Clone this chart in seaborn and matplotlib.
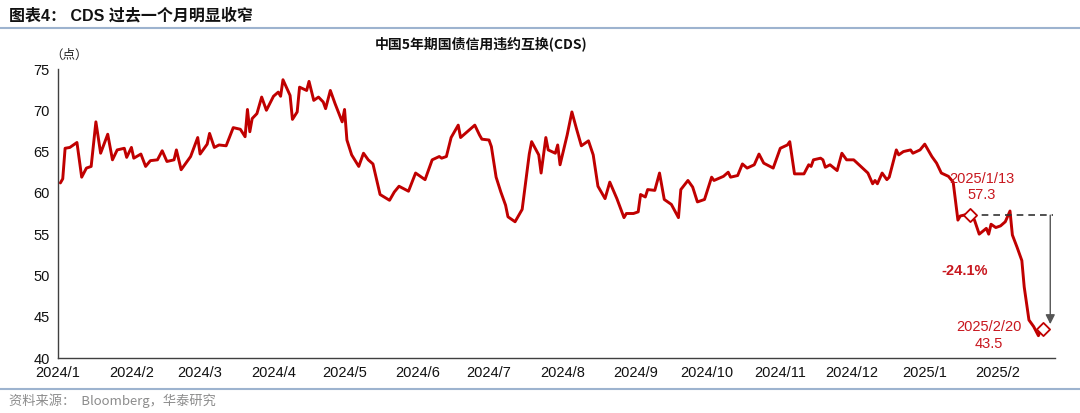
import pandas as pd
import seaborn as sns
import matplotlib.pyplot as plt
import matplotlib.dates as mdates
from matplotlib.ticker import FuncFormatter

# data
dates = [
    "2024-01-02", "2024-01-03", "2024-01-04", "2024-01-06", "2024-01-09", "2024-01-11", "2024-01-13", "2024-01-15",
    "2024-01-17", "2024-01-19", "2024-01-22", "2024-01-24", "2024-01-26", "2024-01-29", "2024-01-30", "2024-02-01",
    "2024-02-02", "2024-02-05", "2024-02-07", "2024-02-09", "2024-02-12", "2024-02-14", "2024-02-16", "2024-02-19",
    "2024-02-20", "2024-02-22", "2024-02-26", "2024-02-29", "2024-03-01", "2024-03-04", "2024-03-05", "2024-03-07",
    "2024-03-09", "2024-03-12", "2024-03-15", "2024-03-18", "2024-03-20", "2024-03-21", "2024-03-22", "2024-03-23",
    "2024-03-25", "2024-03-27", "2024-03-29", "2024-04-01", "2024-04-03", "2024-04-04", "2024-04-05", "2024-04-08",
    "2024-04-09", "2024-04-11", "2024-04-12", "2024-04-15", "2024-04-16", "2024-04-18", "2024-04-20", "2024-04-22",
    "2024-04-23", "2024-04-25", "2024-04-27", "2024-04-30", "2024-05-01", "2024-05-02", "2024-05-04", "2024-05-07",
    "2024-05-09", "2024-05-11", "2024-05-13", "2024-05-16", "2024-05-20", "2024-05-22", "2024-05-24", "2024-05-28",
    "2024-05-31", "2024-06-04", "2024-06-07", "2024-06-10", "2024-06-11", "2024-06-13", "2024-06-15", "2024-06-18",
    "2024-06-19", "2024-06-25", "2024-06-27", "2024-06-28", "2024-07-01", "2024-07-02", "2024-07-04", "2024-07-06",
    "2024-07-08", "2024-07-09", "2024-07-12", "2024-07-15", "2024-07-18", "2024-07-19", "2024-07-22", "2024-07-23",
    "2024-07-25", "2024-07-26", "2024-07-29", "2024-07-30", "2024-07-31", "2024-08-03", "2024-08-05", "2024-08-07",
    "2024-08-09", "2024-08-12", "2024-08-14", "2024-08-16", "2024-08-19", "2024-08-21", "2024-08-24", "2024-08-27",
    "2024-08-28", "2024-08-31", "2024-09-02", "2024-09-03", "2024-09-05", "2024-09-06", "2024-09-09", "2024-09-11",
    "2024-09-13", "2024-09-16", "2024-09-19", "2024-09-20", "2024-09-23", "2024-09-25", "2024-09-27", "2024-09-30",
    "2024-10-03", "2024-10-04", "2024-10-08", "2024-10-10", "2024-10-11", "2024-10-14", "2024-10-16", "2024-10-18",
    "2024-10-21", "2024-10-23", "2024-10-25", "2024-10-29", "2024-11-01", "2024-11-04", "2024-11-05", "2024-11-07",
    "2024-11-11", "2024-11-13", "2024-11-14", "2024-11-15", "2024-11-18", "2024-11-19", "2024-11-20", "2024-11-22",
    "2024-11-25", "2024-11-27", "2024-11-29", "2024-12-02", "2024-12-05", "2024-12-08", "2024-12-10", "2024-12-11",
    "2024-12-12", "2024-12-14", "2024-12-16", "2024-12-17", "2024-12-20", "2024-12-21", "2024-12-23", "2024-12-26",
    "2024-12-27", "2024-12-30", "2025-01-01", "2025-01-04", "2025-01-06", "2025-01-08", "2025-01-11", "2025-01-13",
    "2025-01-15", "2025-01-16", "2025-01-19", "2025-01-20", "2025-01-22", "2025-01-24", "2025-01-27", "2025-01-28",
    "2025-01-29", "2025-01-31", "2025-02-02", "2025-02-04", "2025-02-06", "2025-02-07", "2025-02-09", "2025-02-11",
    "2025-02-12", "2025-02-14", "2025-02-16", "2025-02-18", "2025-02-19", "2025-02-20",
]
cds = [
    61.2, 61.7, 65.4, 65.5, 66.1, 61.9, 63.0, 63.2,
    68.6, 64.8, 67.1, 64.0, 65.2, 65.4, 64.3, 65.5,
    64.2, 64.7, 63.2, 63.9, 64.0, 65.1, 63.8, 64.0,
    65.2, 62.8, 64.4, 66.7, 64.7, 65.9, 67.2, 65.5,
    65.8, 65.7, 67.9, 67.7, 66.8, 70.1, 67.4, 69.0,
    69.6, 71.6, 70.0, 71.7, 72.2, 71.7, 73.7, 71.8,
    68.9, 69.8, 72.8, 72.4, 73.5, 71.2, 71.6, 71.0,
    70.2, 72.4, 70.8, 68.6, 70.1, 66.4, 64.6, 63.2,
    64.8, 64.0, 63.5, 59.8, 59.1, 60.1, 60.8, 60.2,
    62.4, 61.6, 64.0, 64.4, 64.2, 64.4, 66.7, 68.2,
    66.7, 68.2, 67.0, 66.5, 66.4, 65.6, 61.9, 60.1,
    58.5, 57.1, 56.5, 58.0, 64.7, 66.2, 64.6, 62.4,
    66.7, 65.2, 64.8, 65.8, 63.4, 67.0, 69.8, 67.7,
    65.7, 66.3, 64.6, 60.8, 59.3, 61.3, 59.3, 57.0,
    57.5, 57.5, 57.7, 59.8, 59.5, 60.4, 60.3, 62.4,
    59.2, 58.6, 57.0, 60.4, 61.5, 60.7, 58.9, 59.2,
    61.9, 61.5, 62.0, 62.5, 61.9, 62.1, 63.5, 63.0,
    63.4, 64.7, 63.6, 63.0, 65.4, 65.8, 66.2, 62.3,
    62.3, 63.4, 63.2, 64.0, 64.2, 64.0, 63.1, 63.4,
    62.7, 64.8, 64.0, 64.0, 63.2, 62.4, 61.1, 61.5,
    61.1, 62.4, 61.6, 61.9, 65.2, 64.6, 65.0, 65.2,
    64.8, 65.2, 65.9, 64.4, 63.6, 62.4, 62.0, 61.3,
    56.7, 57.2, 57.4, 57.5, 56.7, 55.0, 55.7, 55.0,
    56.2, 55.8, 56.0, 56.5, 57.8, 54.9, 53.4, 51.8,
    48.6, 44.6, 43.8, 42.7, 43.4, 43.5,
]

# annotated points
ann_dates = ["2025-01-20", "2025-02-20"]
ann_values = [57.3, 43.5]
ann_labels = ["2025/1/13\n57.3", "2025/2/20\n43.5"]
change_label = "-24.1%"
line_end = "2025-02-24"

red = "#C00000"
text_red = "#C8171E"
rule_color = "#9DB3CF"

df = pd.DataFrame({"date": pd.to_datetime(dates), "cds": cds})
ann = pd.DataFrame({"date": pd.to_datetime(ann_dates), "cds": ann_values})

sns.set_theme(style="white")
plt.rcParams["font.family"] = ["Liberation Sans", "Noto Sans CJK SC", "DejaVu Sans"]

fig = plt.figure(figsize=(10.8, 4.13), dpi=100)
ax = fig.add_axes([58 / 1080, 55 / 413, 997 / 1080, 289 / 413])

sns.lineplot(data=df, x="date", y="cds", color=red, linewidth=2.1, ax=ax)

# dashed level line and arrow between the two marked points
ax.plot([ann["date"].iloc[0], pd.Timestamp(line_end)], [ann_values[0], ann_values[0]],
        color="#333333", linestyle=(0, (4, 3)), linewidth=1.2, zorder=2)
arrow_x = pd.Timestamp(line_end) - pd.Timedelta(days=1)
ax.annotate("", xy=(arrow_x, ann_values[1] + 0.6), xytext=(arrow_x, ann_values[0]),
            arrowprops=dict(arrowstyle="-|>", color="#555555", lw=1.0, mutation_scale=14,
                            shrinkA=0, shrinkB=0, facecolor="black"))

sns.scatterplot(data=ann, x="date", y="cds", marker="D", s=45, color="white",
                edgecolor=red, linewidth=1.3, zorder=5, ax=ax)

ax.text(ann["date"].iloc[0] + pd.Timedelta(days=5), ann_values[0] + 1.6, ann_labels[0],
        ha="center", va="bottom", color=text_red, fontsize=10.5, linespacing=1.2)
ax.text(ann["date"].iloc[1] - pd.Timedelta(days=23), 40.9, ann_labels[1],
        ha="center", va="bottom", color=text_red, fontsize=10.5, linespacing=1.2)
ax.text(pd.Timestamp("2025-01-18"), 50.5, change_label, ha="center", va="center",
        color=text_red, fontsize=10.5, fontweight="bold")

ax.set_xlim(pd.Timestamp("2024-01-01"), pd.Timestamp("2025-02-25"))
ax.set_ylim(40, 75)
ax.set_yticks(range(40, 76, 5))
ax.xaxis.set_major_locator(mdates.MonthLocator())
ax.xaxis.set_major_formatter(FuncFormatter(lambda v, p: f"{mdates.num2date(v).year}/{mdates.num2date(v).month}"))
ax.set_xlabel("")
ax.set_ylabel("")
for s in ["top", "right"]:
    ax.spines[s].set_visible(False)
for s in ["left", "bottom"]:
    ax.spines[s].set_color("#404040")
    ax.spines[s].set_linewidth(1.0)
ax.tick_params(axis="both", direction="out", length=4, width=1.0, color="#404040",
               labelsize=10.5, labelcolor="#111111", pad=2)

# header, title and source
fig.text(0.008, 0.962, "图表4： CDS 过去一个月明显收窄", fontsize=11.5, fontweight="bold", color="#111111",
         family=["Liberation Sans", "Noto Sans CJK SC"], va="center")
fig.add_artist(plt.Line2D([0.0, 1.0], [0.932, 0.932], color=rule_color, linewidth=1.5))
fig.text(481 / 1080, 1 - 44 / 413, "中国5年期国债信用违约互换(CDS)", fontsize=10, fontweight="bold",
         color="#111111", family=["Noto Sans CJK SC", "Liberation Sans"], ha="center", va="center")
fig.text(50 / 1080, 1 - 55 / 413, "（点）", fontsize=9, color="#222222",
         family=["Noto Sans CJK SC"], ha="left", va="center")
fig.add_artist(plt.Line2D([0.0, 1.0], [1 - 389 / 413, 1 - 389 / 413], color=rule_color, linewidth=1.5))
fig.text(0.008, 1 - 401 / 413, "资料来源：  Bloomberg，华泰研究", fontsize=9.5, color="#8C8C8C",
         family=["Noto Sans CJK SC", "Liberation Sans"], va="center")

fig.savefig("out.png", dpi=100)
